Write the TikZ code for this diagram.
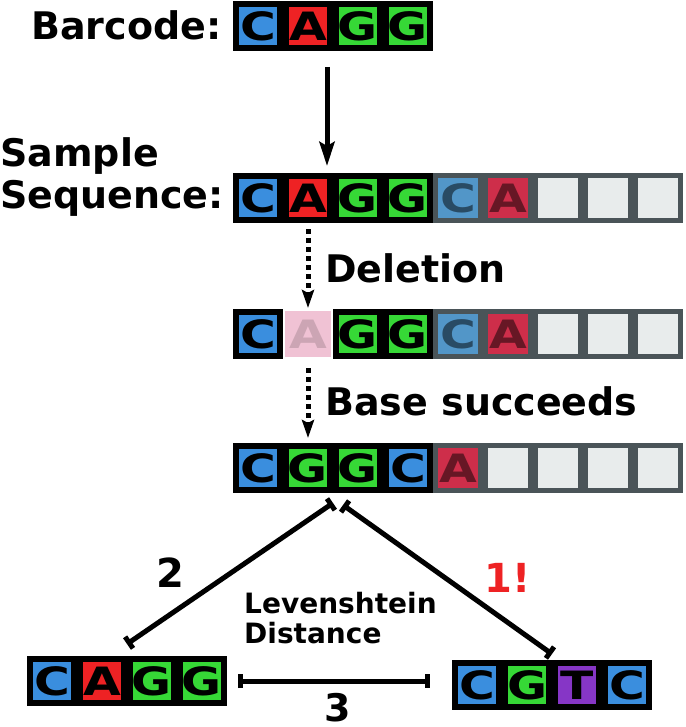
\documentclass[tikz,border=0pt]{standalone}
\usepackage{fontspec}
\setmainfont{DejaVu Sans}
\usepackage{graphicx}
\usetikzlibrary{arrows.meta}

\definecolor{cblue}{RGB}{58,142,222}
\definecolor{cred}{RGB}{238,34,36}
\definecolor{cgreen}{RGB}{54,216,54}
\definecolor{cpurple}{RGB}{134,54,198}
\definecolor{fblue}{RGB}{82,150,200}
\definecolor{fred}{RGB}{206,46,74}
\definecolor{fgray}{RGB}{232,236,236}
\definecolor{fline}{RGB}{74,84,88}
\definecolor{fpink}{RGB}{240,194,212}
\newcommand{\nuc}[1]{\scalebox{1.25}[1]{#1}}

\begin{document}
\begin{tikzpicture}[
       x=1pt, y=-1pt,
       cell_style/.style={draw=black, line width=6pt, minimum size=44pt, inner sep=0pt, font=\fontsize{39}{39}\selectfont\bfseries}, % 碱基格:黑色粗边框
       blur_style/.style={draw=fline, line width=5pt, minimum size=45pt, inner sep=0pt, font=\fontsize{39}{39}\selectfont\bfseries}, % 模糊的后续碱基格
       label_style/.style={font=\fontsize{38}{40}\selectfont\bfseries, inner sep=0pt, anchor=base west}, % 说明文字
       arrow_style/.style={draw, black, line width=5pt, -{Stealth[length=24pt, width=15pt, inset=4pt]}}, % 实线箭头
       dot_style/.style={draw, black, line width=5pt, dash pattern=on 5pt off 4pt, -{Stealth[length=18pt, width=12pt, inset=3pt]}}, % 虚线箭头
       dist_style/.style={draw, black, line width=5pt, {Bar[width=14pt]}-{Bar[width=14pt]}} % 距离线:两端带短横
   ]

   \useasboundingbox (0,0) rectangle (685,727);

   % 1. 条形码 CAGG
   \node[label_style] (barcode) at (31,40) {Barcode:};
   \node[cell_style, fill=cblue] (bar1) at (258,26) {\nuc{C}};
   \node[cell_style, fill=cred] (bar2) at (308,26) {\nuc{A}};
   \node[cell_style, fill=cgreen] (bar3) at (358,26) {\nuc{G}};
   \node[cell_style, fill=cgreen] (bar4) at (408,26) {\nuc{G}};

   % 2. 样本序列(后面接模糊的碱基)
   \node[label_style] (sample) at (0,167) {Sample};
   \node[label_style] (sequence) at (0,208) {Sequence:};
   \node[cell_style, fill=cblue] (smp1) at (258,198) {\nuc{C}};
   \node[cell_style, fill=cred] (smp2) at (308,198) {\nuc{A}};
   \node[cell_style, fill=cgreen] (smp3) at (358,198) {\nuc{G}};
   \node[cell_style, fill=cgreen] (smp4) at (408,198) {\nuc{G}};
   \node[blur_style, fill=fblue, text=fblue!50!black] (smp5) at (458,198) {\nuc{C}};
   \node[blur_style, fill=fred, text=fred!50!black] (smp6) at (508,198) {\nuc{A}};
   \node[blur_style, fill=fgray] (smp7) at (558,198) {};
   \node[blur_style, fill=fgray] (smp8) at (608,198) {};
   \node[blur_style, fill=fgray] (smp9) at (658,198) {};

   % 3. 缺失:A 被删掉
   \node[label_style] (deletion) at (325,282) {Deletion};
   \node[cell_style, fill=cblue] (del1) at (258,334) {\nuc{C}};
   \node[fill=fpink, text=fpink!85!black, minimum size=46pt, inner sep=0pt, outer sep=0pt, font=\fontsize{39}{39}\selectfont\bfseries] (del2) at (308,334) {\nuc{A}};
   \node[cell_style, fill=cgreen] (del3) at (358,334) {\nuc{G}};
   \node[cell_style, fill=cgreen] (del4) at (408,334) {\nuc{G}};
   \node[blur_style, fill=fblue, text=fblue!50!black] (del5) at (458,334) {\nuc{C}};
   \node[blur_style, fill=fred, text=fred!50!black] (del6) at (508,334) {\nuc{A}};
   \node[blur_style, fill=fgray] (del7) at (558,334) {};
   \node[blur_style, fill=fgray] (del8) at (608,334) {};
   \node[blur_style, fill=fgray] (del9) at (658,334) {};

   % 4. 后面的碱基补上:CGGC
   \node[label_style] (succeeds) at (325,415) {Base succeeds};
   \node[cell_style, fill=cblue] (suc1) at (258,468) {\nuc{C}};
   \node[cell_style, fill=cgreen] (suc2) at (308,468) {\nuc{G}};
   \node[cell_style, fill=cgreen] (suc3) at (358,468) {\nuc{G}};
   \node[cell_style, fill=cblue] (suc4) at (408,468) {\nuc{C}};
   \node[blur_style, fill=fred, text=fred!50!black] (suc5) at (458,468) {\nuc{A}};
   \node[blur_style, fill=fgray] (suc6) at (508,468) {};
   \node[blur_style, fill=fgray] (suc7) at (558,468) {};
   \node[blur_style, fill=fgray] (suc8) at (608,468) {};
   \node[blur_style, fill=fgray] (suc9) at (658,468) {};

   % 5. 下面两个条形码 CAGG 和 CGTC
   \node[cell_style, fill=cblue] (lft1) at (52,681) {\nuc{C}};
   \node[cell_style, fill=cred] (lft2) at (102,681) {\nuc{A}};
   \node[cell_style, fill=cgreen] (lft3) at (152,681) {\nuc{G}};
   \node[cell_style, fill=cgreen] (lft4) at (202,681) {\nuc{G}};
   \node[cell_style, fill=cblue] (rgt1) at (477,685) {\nuc{C}};
   \node[cell_style, fill=cgreen] (rgt2) at (527,685) {\nuc{G}};
   \node[cell_style, fill=cpurple] (rgt3) at (577,685) {\nuc{T}};
   \node[cell_style, fill=cblue] (rgt4) at (627,685) {\nuc{C}};

   % 6. 箭头
   \draw[arrow_style] ([xshift=-6pt,yshift=-16pt]bar2.south east) -- ([xshift=-6pt,yshift=7pt]smp2.north east);
   \draw[dot_style] ([yshift=-6pt]smp2.south) -- ([yshift=3pt]del2.north);
   \draw[dot_style] ([yshift=-11pt]del2.south) -- ([yshift=5pt]suc2.north);

   % 7. 编辑距离
   \draw[dist_style] ([yshift=-10pt]suc2.south east) -- ([yshift=12pt]lft2.north east);
   \draw[dist_style] ([xshift=10pt,yshift=-12pt]suc3.south west) -- ([yshift=6pt]rgt3.north west);
   \draw[dist_style] ([xshift=11pt]lft4.east) -- ([xshift=-22pt]lft4.east -| rgt1.west);

   \node[font=\fontsize{40}{40}\selectfont\bfseries] (two) at (170,573) {2};
   \node[font=\fontsize{40}{40}\selectfont\bfseries, text=cred] (one) at (508,578) {1!};
   \node[font=\fontsize{38}{38}\selectfont\bfseries, inner sep=0pt] (three) at (338,708) {3};
   \node[font=\fontsize{28}{30}\selectfont\bfseries, align=left, anchor=north west, inner sep=0pt] (lev) at (244,592) {Levenshtein\\Distance};

   \end{tikzpicture}
\end{document}
